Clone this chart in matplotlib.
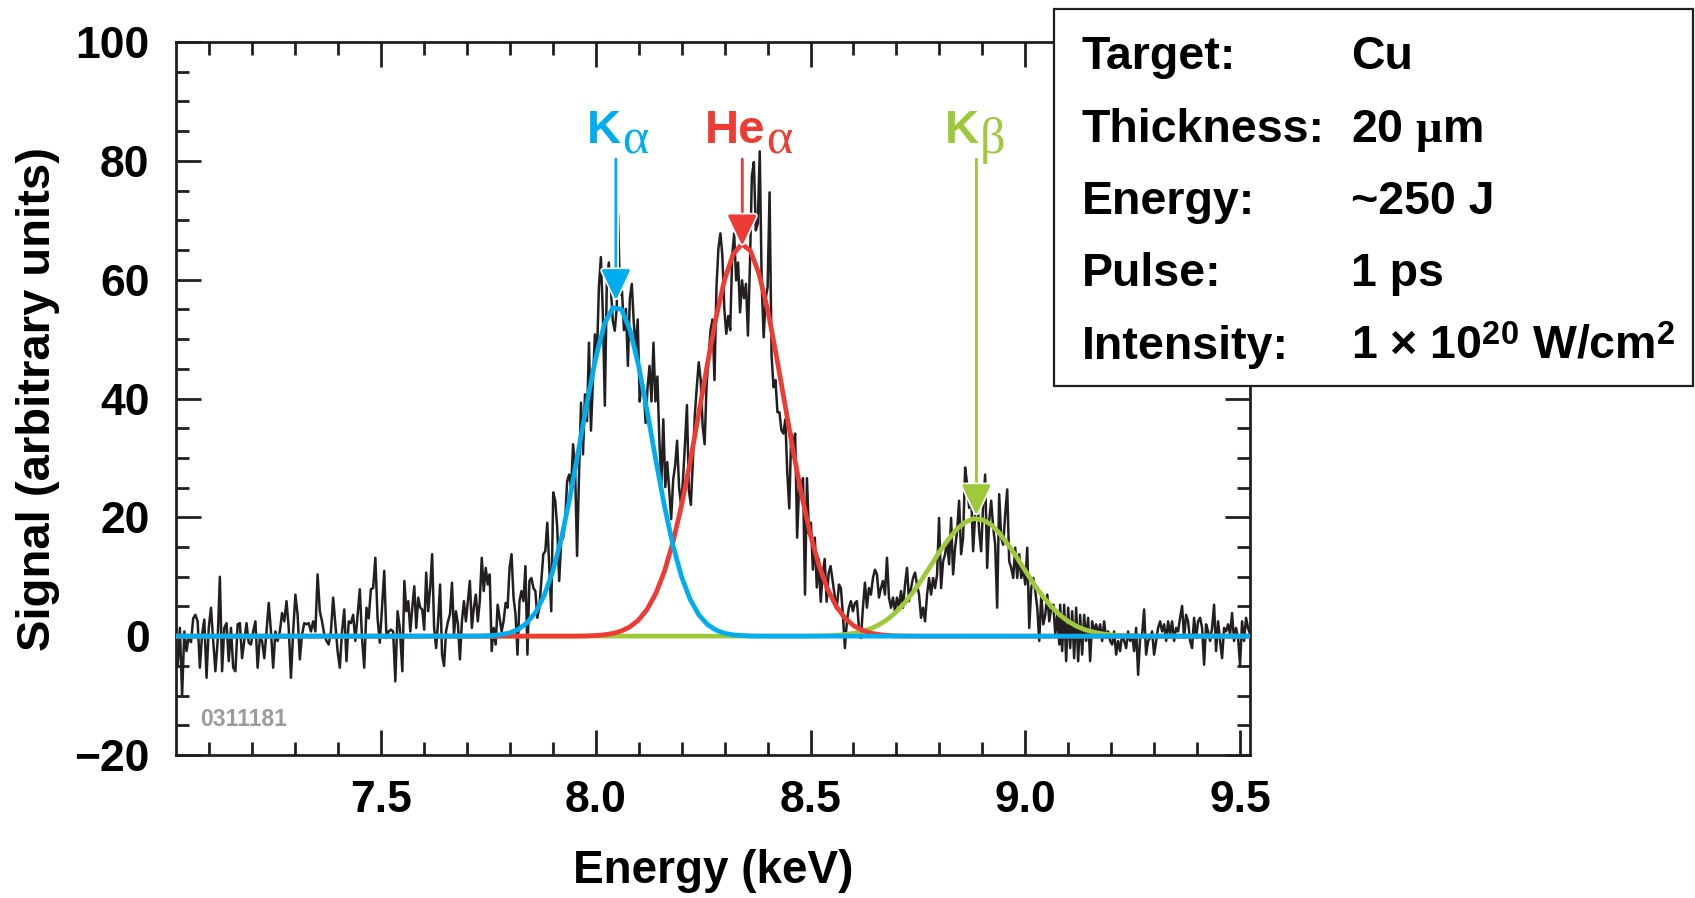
"""Cu K-shell spectrum with Gaussian fits (Kα, Heα, Kβ) and shot parameters."""

import numpy as np
import matplotlib

matplotlib.use("Agg")
import matplotlib.pyplot as plt
import matplotlib.patheffects as pe
from matplotlib.patches import Rectangle
from matplotlib.ticker import MultipleLocator, FormatStrFormatter

plt.rcParams["font.family"] = ["Liberation Sans", "DejaVu Sans"]
plt.rcParams["font.weight"] = "bold"
plt.rcParams["axes.labelweight"] = "bold"
plt.rcParams["mathtext.fontset"] = "custom"
plt.rcParams["mathtext.rm"] = "Liberation Sans:bold"
plt.rcParams["mathtext.bf"] = "Liberation Sans:bold"
plt.rcParams["mathtext.it"] = "Liberation Serif"

SPANS = [(7.027, 7.544), (7.550, 8.049), (8.052, 8.565), (8.566, 9.079), (9.081, 9.523)]

signal_1 = [-5, 1.4, -10, 0.8, -2.5, 0, -1, 3, 3.6, 2.5, -5.3, 0.3, 2.8, -7, 1.4, 4.8,
            -0.8, -5.9, -0.8, 10, -5.9, 1.4, 2.2, -4.2, 1.4, -5.3, -5.9, 2, 2.2, -3.7,
            -0.8, 2.2, -1.1, -1.4, 0.8, 2.5, -5.3, -0.3, -0.8, -3.7, 0.8, 5.6, 0.8, -5.3,
            0.8, -0.8, 0.8, 3.9, 2.5, 5.9, 1.4, -7, 0.8, 7, 3.6, -3.9, 0.3, 2.2, 2, 2.2,
            0.8, 2.5, 0.8, 10.4, 4.2, 2.5, 0.3, -0.8, -1.4, 0.8, 6.5, 2, -2.5, -5.3, 0.8,
            4.5, -4.2, 2.5, 2.2, 3.6, -0.8, 3.6, 7.9, -0.3, -5.3, 4.8, 3, 7.9, 8.1, 13.2,
            3, -1.1, 4.8, 11, -0.3, 0.8, 1.1, 0.8, -7.6, 4.2, 1.4]
signal_2 = [-5.9, 9.3, 4.2, 5.9, 0.8, 4.8, 8.4, 1.4, 6.5, 4.8, 4.5, 1.1, 10.7, 4.2, 8.1,
            13.8, 1.4, -2, 2.5, 8.7, -3.1, -5, 0.8, 2.5, 3.7, 9, 0.3, 4.2, 2, -3.9, 2.5,
            5.9, 2.5, 5.9, 9.3, 1.4, 4.8, 7, 2.5, 5.9, 13.2, 7.6, 11.5, 8.7, 10.4, -2.5,
            1.4, -1.4, 5.3, 3.1, 0.8, 2.5, 5.6, 4.8, 11.5, 13.8, 6.5, 3.7, -3.1, 5.9, 7.6,
            5.9, 11.8, -3.1, 9.3, 9.8, 8.1, 7.6, 3.1, 4.8, 9.3, 13.8, 14.3, 19.1, 11.5,
            4.2, 24.2, 22.8, 18.3, 9.3, 16, 16.6, 19.4, 26.1, 27.2, 25, 32.3, 28.4, 13.5,
            27.2, 39.3, 30.6, 40.7, 36.2, 49.4, 34.6, 43, 50.8, 46.9, 58.7, 63.8, 54.2,
            38.8, 59.8, 62.9, 58.7, 53.1, 51.4, 55.3]
signal_3 = [71, 57.5, 58.1, 51.5, 55.1, 45.5, 56.9, 59.3, 52.7, 48.5, 53.3, 39.5, 43.1,
            41.9, 35.9, 41.9, 45.5, 39.5, 49.4, 39.5, 43.7, 32.9, 25.7, 36.5, 25.1, 29.3,
            24.5, 19.7, 26.3, 28.7, 32.9, 25.1, 22.1, 26.3, 32.3, 38.9, 24.5, 22.1, 29.3,
            37.1, 41.9, 46.1, 43.1, 35.3, 32.3, 42.5, 46.7, 51.5, 53.3, 43.1, 58.7, 65.3,
            67.8, 64.1, 55.1, 50.9, 53.9, 51.5, 64.1, 67.8, 59.9, 62.9, 54.5, 59.9, 56.9,
            59.3, 50.6, 62.3, 77.4, 79.8, 68.3, 69.5, 81.6, 59.3, 50.3, 56.9, 58.7, 74.7,
            47.3, 41.9, 43.1, 37.7, 37.7, 34.7, 34.1, 36.5, 27.5, 21.5, 34.1, 32.3, 34.1,
            16.6, 25.1, 25.1, 26.6, 7, 26.6, 17.2, 19.1, 11.2, 16.6, 8.2, 13, 5.8, 10.6,
            13, 5.8, 10.6, 11.8, 9.4, 7, 4.6, 7.6]
signal_4 = [8.7, 8.1, 3.6, -2, 2.5, 4.8, 5.9, 4.2, 5.6, 5.9, 1.4, -0.3, 4.8, 9, 4.8, 8.1,
            7, 9.8, 11.2, 10.4, 6.5, 8.1, 9.3, 7, 13.2, 6.5, 4.8, 6.5, 4.2, 6.5, 4.8, 7.6,
            4.8, 8.7, 11.5, 5.9, 8.1, 9.8, 10.7, 8.7, 7, 3.1, 4.8, 2.5, 7, 9.8, 7, 9.8,
            8.1, 10.4, 19.9, 8.1, 12.6, 13.8, 16, 12.1, 19.9, 10.4, 14.9, 17.7, 22.8, 13.8,
            16.6, 28.4, 25.6, 21.6, 23.9, 14.3, 20.5, 23.9, 17.7, 14.3, 22.2, 27.2, 11.5,
            19.4, 22.8, 18.3, 15.4, 4.8, 23.9, 16.6, 15.4, 20.5, 24.7, 12.6, 11.5, 9.8,
            14.9, 9.8, 13.8, 9.8, 11.5, 8.7, 14.9, 1.4, 8.1, 9.8, 7.6, 4.8, -0.8, 7, 2,
            3.6, 7, 2.5, 4.8, 5.3, 0.3, 3.6, -1.4]
signal_5 = [5.3, -2.5, 5.3, -4.2, 4.8, -2, 4.2, -3.7, 4.8, -4.2, 3.6, -3.1, 3.6, -0.8,
            3.1, -4.2, 2.5, 0.8, 2, 0.3, 2, -0.8, 2.5, -0.3, 0.8, -0.8, -1.4, 0.8, -3.1,
            -0.8, -2.5, 0.3, -0.8, -2, 0.8, -0.8, 0.3, -2.5, 1.4, -6.5, -0.3, 0.3, 4.5,
            -3.1, -0.8, -0.3, 0.8, -3.1, -0.8, 1.4, 2.5, 0.8, 2, -0.8, 2.5, 0.3, 2.5,
            -0.8, 1.4, 0.8, 3.1, 5.1, -0.3, 3.6, 2.5, -0.8, -2, 3.1, -0.3, 2.5, 3.1, 1.4,
            -4.8, 2, 0.8, -0.8, 1.4, 5.3, -2.5, 2.5, -0.8, -3.7, 1.4, 0.8, 2, 0.3, 3.9,
            -0.8, 1.4, -0.3, -4.8, 2.5, -0.8, 3.1, 1.4, 0.3]
SIGNAL_SEGMENTS = [signal_1, signal_2, signal_3, signal_4, signal_5]

# --- fitted line profiles, sampled every 0.02 keV over their support --------
ka_range = (7.70, 8.40)
ka_fit = [0.01, 0.02, 0.05, 0.12, 0.27, 0.57, 1.17, 2.23, 4.01, 6.82, 10.9, 16.4, 23.4,
          31.3, 39.4, 46.8, 52.5, 55.3, 55.0, 51.5, 45.5, 37.8, 29.6, 21.9, 15.2, 9.97,
          6.16, 3.59, 1.97, 1.02, 0.49, 0.23, 0.10, 0.04, 0.02, 0.01]
hea_range = (7.94, 8.74)
hea_fit = [0.01, 0.02, 0.05, 0.12, 0.24, 0.47, 0.88, 1.59, 2.75, 4.55, 7.21, 10.9, 15.9,
           22.1, 29.4, 37.5, 45.8, 53.6, 60.0, 64.3, 66.0, 64.9, 61.0, 55.0, 47.4, 39.2,
           31.0, 23.5, 17.0, 11.8, 7.87, 5.01, 3.05, 1.78, 1.00, 0.53, 0.27, 0.13, 0.06,
           0.03, 0.01]
kb_range = (8.50, 9.28)
kb_fit = [0.02, 0.05, 0.09, 0.16, 0.28, 0.48, 0.80, 1.27, 1.95, 2.89, 4.12, 5.67, 7.53,
          9.64, 11.9, 14.2, 16.2, 18.0, 19.2, 19.8, 19.6, 18.8, 17.3, 15.4, 13.3, 11.0,
          8.77, 6.75, 5.02, 3.59, 2.48, 1.65, 1.06, 0.66, 0.39, 0.23, 0.13, 0.07, 0.03,
          0.02]

# peak markers: label, greek subscript, centre (keV), arrow tip (signal)
peak_names = ["K", "He", "K"]
peak_greek = ["\u03b1", "\u03b1", "\u03b2"]
peak_centres = [8.047, 8.341, 8.886]
peak_tips = [56.6, 65.8, 20.4]

param_names = ["Target:", "Thickness:", "Energy:", "Pulse:", "Intensity:"]
param_values = ["Cu", r"20 $\mu$m", "~250 J", "1 ps", r"1 $\times$ 10$^{20}$ W/cm$^{2}$"]

BLACK = "#231f20"
BLUE = "#00aeef"
RED = "#ee3b33"
GREEN = "#9dc93b"

energy = np.concatenate([np.linspace(a, b, len(s)) for (a, b), s in zip(SPANS, SIGNAL_SEGMENTS)])
signal = np.concatenate([np.asarray(s, float) for s in SIGNAL_SEGMENTS])


def full_profile(rng, values):
    """Pad a sampled fit with zero baseline across the whole window."""
    x = np.linspace(rng[0], rng[1], len(values))
    return np.concatenate([[6.9], x, [9.7]]), np.concatenate([[0.0], values, [0.0]])


fig = plt.figure(figsize=(16.95, 8.98), dpi=100)
ax = fig.add_axes([0.1038, 0.1592, 0.6337, 0.7940])

ax.plot(energy, signal, color=BLACK, lw=1.8, zorder=2)
for rng, vals, col, z in [(kb_range, kb_fit, GREEN, 3),
                          (hea_range, hea_fit, RED, 4),
                          (ka_range, ka_fit, BLUE, 5)]:
    fx, fy = full_profile(rng, vals)
    ax.plot(fx, fy, color=col, lw=3.4, zorder=z, solid_capstyle="butt")

# label text sits so that the main letters end roughly over the arrow
label_shift = [0.012, 0.053, 0.005]
for name, greek, xc, dx, tip, col in zip(peak_names, peak_greek, peak_centres,
                                        label_shift, peak_tips, [BLUE, RED, GREEN]):
    ann = ax.annotate("", xy=(xc, tip), xytext=(xc, 80.3),
                      arrowprops=dict(arrowstyle="-|>,head_length=0.95,head_width=0.45",
                                      color=col, lw=1.8, shrinkA=0, shrinkB=0,
                                      mutation_scale=20), zorder=6)
    ann.arrow_patch.set_path_effects([pe.withStroke(linewidth=4.5, foreground="white"),
                                      pe.Normal()])
    t = ax.text(xc + dx, 83, name, color=col, fontsize=34, ha="right", va="baseline",
                zorder=7)
    ax.annotate(greek, xy=(1, 0), xycoords=t, xytext=(1, 0), textcoords="offset points",
                ha="left", va="baseline", color=col, fontsize=36,
                family="Liberation Serif", fontweight="normal", zorder=7)

ax.text(7.079, -14.0, "0311181", color="#9b9b9b", fontsize=16.5, ha="left", va="center")

ax.set_xlim(7.023, 9.523)
ax.set_ylim(-20, 100)
ax.xaxis.set_major_locator(MultipleLocator(0.5))
ax.xaxis.set_minor_locator(MultipleLocator(0.1))
ax.xaxis.set_major_formatter(FormatStrFormatter("%.1f"))
ax.yaxis.set_major_locator(MultipleLocator(20))
ax.yaxis.set_minor_locator(MultipleLocator(5))
ax.tick_params(which="both", direction="in", top=True, right=True, width=2.0,
               color=BLACK, labelsize=32)
ax.tick_params(which="major", length=18)
ax.tick_params(which="minor", length=9.5)
ax.tick_params(axis="x", pad=18)
ax.tick_params(axis="y", pad=19)
for sp in ax.spines.values():
    sp.set_linewidth(2.0)
    sp.set_color(BLACK)

ax.set_xlabel("Energy (keV)", fontsize=33, fontweight="bold")
ax.xaxis.set_label_coords(0.5, -0.163)
ax.xaxis.label.set_va("center")
ax.set_ylabel("Signal (arbitrary units)", fontsize=34, fontweight="bold")
ax.yaxis.set_label_coords(-0.1285, 0.5)
ax.yaxis.label.set_va("center")

# parameter box in the upper right, drawn over the axes frame
fig.add_artist(Rectangle((1054 / 1695, 1 - 386 / 898), (1693 - 1054) / 1695, 377 / 898,
                         transform=fig.transFigure, facecolor="white",
                         edgecolor=BLACK, lw=1.6, zorder=10))
for i, (name, val) in enumerate(zip(param_names, param_values)):
    yb = 1 - (69 + 72.5 * i) / 898
    fig.text(1082 / 1695, yb, name, fontsize=33.5, ha="left", va="baseline", zorder=11)
    fig.text(1351 / 1695, yb, val, fontsize=33.5, ha="left", va="baseline", zorder=11)

fig.savefig("out.png", dpi=100)
